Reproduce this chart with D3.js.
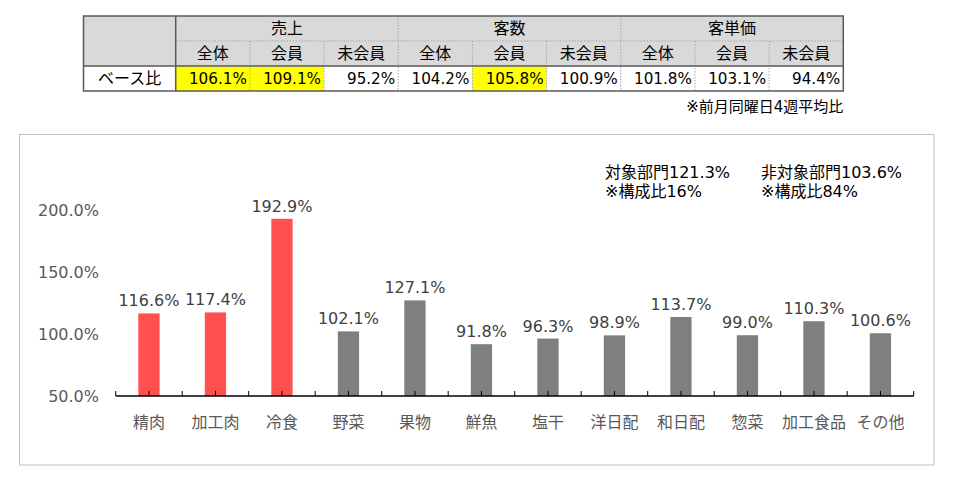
<!DOCTYPE html>
<html lang="ja">
<head>
<meta charset="UTF-8" />
<title>部門別 ベース比</title>
<script src="https://d3js.org/d3.v7.min.js"></script>
<style>
  body { margin: 0; background: #fff; }
  svg { display: block; font-family: "DejaVu Sans", "Noto Sans CJK JP", sans-serif; }
  .tbl-text { font-size: 16px; fill: #000; }
  .tbl-val { font-size: 15.2px; fill: #000; }
  .tick-label { font-size: 16px; fill: #595959; }
  .value-label { font-size: 16px; fill: #404040; }
  .note { font-size: 16px; fill: #000; }
</style>
</head>
<body>
<svg id="chart" width="953" height="482"></svg>
<script>
// table data
const groups = ["売上", "客数", "客単価"];
const subCols = ["全体", "会員", "未会員"];
const rowLabel = "ベース比";
const tableValues = [106.1, 109.1, 95.2, 104.2, 105.8, 100.9, 101.8, 103.1, 94.4];
const highlighted = [true, true, false, false, true, false, false, false, false];
const footnote = "※前月同曜日4週平均比";

// bar chart data
const categories = ["精肉", "加工肉", "冷食", "野菜", "果物", "鮮魚", "塩干", "洋日配", "和日配", "惣菜", "加工食品", "その他"];
const values = [116.6, 117.4, 192.9, 102.1, 127.1, 91.8, 96.3, 98.9, 113.7, 99.0, 110.3, 100.6];
const isTarget = [true, true, true, false, false, false, false, false, false, false, false, false];
const yTicks = [50, 100, 150, 200];
const notes = [
  ["対象部門121.3%", "※構成比16%"],
  ["非対象部門103.6%", "※構成比84%"]
];

const pct = d => d3.format(".1f")(d) + "%";
const svg = d3.select("#chart");

// ---------- table ----------
const tLeft = 83.5, tFirst = 175.7, tRight = 843.3;
const rowTop = 16, rowH = 25;
const colX = d3.scaleBand().domain(d3.range(tableValues.length)).range([tFirst, tRight]);
const cw = colX.bandwidth();
const tbl = svg.append("g");

// header background
tbl.append("rect")
  .attr("x", tLeft).attr("y", rowTop)
  .attr("width", tRight - tLeft).attr("height", rowH * 2)
  .attr("fill", "#d9d9d9");

// data row cells
tbl.selectAll(".cell")
  .data(tableValues)
  .join("rect")
  .attr("x", (d, i) => colX(i)).attr("y", rowTop + rowH * 2)
  .attr("width", cw).attr("height", rowH)
  .attr("fill", (d, i) => highlighted[i] ? "#ffff00" : "#fff");

const dotted = { stroke: "#a6a6a6", "stroke-dasharray": "1.5,1.5", "stroke-width": 1 };
function line(x1, y1, x2, y2, style) {
  const l = tbl.append("line").attr("x1", x1).attr("y1", y1).attr("x2", x2).attr("y2", y2);
  Object.entries(style).forEach(([k, v]) => l.attr(k, v));
  return l;
}
// dotted horizontal between header rows
line(tFirst, rowTop + rowH, tRight, rowTop + rowH, dotted);
// dotted verticals
d3.range(1, tableValues.length).forEach(i => {
  const groupEdge = i % subCols.length === 0;
  line(colX(i), groupEdge ? rowTop : rowTop + rowH, colX(i), rowTop + rowH * 3, dotted);
});
const solid = { stroke: "#595959", "stroke-width": 1.5 };
line(tLeft, rowTop + rowH * 2, tRight, rowTop + rowH * 2, solid);
line(tFirst, rowTop, tFirst, rowTop + rowH * 3, solid);
tbl.append("rect")
  .attr("x", tLeft).attr("y", rowTop)
  .attr("width", tRight - tLeft).attr("height", rowH * 3)
  .attr("fill", "none").attr("stroke", "#595959").attr("stroke-width", 1.5);

// header text
tbl.selectAll(".grp")
  .data(groups)
  .join("text")
  .attr("class", "tbl-text")
  .attr("x", (d, i) => colX(i * subCols.length) + cw * subCols.length / 2)
  .attr("y", rowTop + rowH / 2)
  .attr("dy", "0.36em")
  .attr("text-anchor", "middle")
  .text(d => d);

tbl.selectAll(".sub")
  .data(tableValues)
  .join("text")
  .attr("class", "tbl-text")
  .attr("x", (d, i) => colX(i) + cw / 2)
  .attr("y", rowTop + rowH * 1.5)
  .attr("dy", "0.36em")
  .attr("text-anchor", "middle")
  .text((d, i) => subCols[i % subCols.length]);

tbl.selectAll(".val")
  .data(tableValues)
  .join("text")
  .attr("class", "tbl-val")
  .attr("x", (d, i) => colX(i) + cw - 3)
  .attr("y", rowTop + rowH * 2.5)
  .attr("dy", "0.36em")
  .attr("text-anchor", "end")
  .text(pct);

tbl.append("text")
  .attr("class", "tbl-text")
  .attr("x", (tLeft + tFirst) / 2)
  .attr("y", rowTop + rowH * 2.5)
  .attr("dy", "0.36em")
  .attr("text-anchor", "middle")
  .text(rowLabel);

tbl.append("text")
  .attr("class", "tbl-text")
  .style("font-size", "15px")
  .attr("x", tRight)
  .attr("y", 112)
  .attr("text-anchor", "end")
  .text(footnote);

// ---------- chart ----------
svg.append("rect")
  .attr("x", 19.5).attr("y", 134.5)
  .attr("width", 914.5).attr("height", 330.5)
  .attr("fill", "#fff").attr("stroke", "#bfbfbf");

const x = d3.scaleBand().domain(categories).range([115.7, 913.7]).paddingInner(0.68).paddingOuter(0.34);
const band = d3.scaleBand().domain(categories).range([115.7, 913.7]);
const y = d3.scaleLinear().domain([50, 200]).range([396, 210]);

// y labels
svg.append("g")
  .selectAll("text")
  .data(yTicks)
  .join("text")
  .attr("class", "tick-label")
  .attr("x", 99)
  .attr("y", d => y(d))
  .attr("dy", "0.36em")
  .attr("text-anchor", "end")
  .text(d => d3.format(".1f")(d) + "%");

// bars
svg.append("g")
  .selectAll("rect")
  .data(values)
  .join("rect")
  .attr("x", (d, i) => x(categories[i]))
  .attr("y", d => y(d))
  .attr("width", x.bandwidth())
  .attr("height", d => y(50) - y(d))
  .attr("fill", (d, i) => isTarget[i] ? "#ff5050" : "#7f7f7f");

// value labels
svg.append("g")
  .selectAll("text")
  .data(values)
  .join("text")
  .attr("class", "value-label")
  .attr("x", (d, i) => band(categories[i]) + band.bandwidth() / 2)
  .attr("y", d => y(d) - 7)
  .attr("text-anchor", "middle")
  .text(pct);

// x axis: ticks at boundaries and centres, pointing up
const ax = svg.append("g");
ax.append("line")
  .attr("x1", band.range()[0]).attr("x2", band.range()[1])
  .attr("y1", y(50)).attr("y2", y(50))
  .attr("stroke", "#000").attr("stroke-width", 1.3);
const tickPos = [];
categories.forEach(c => { tickPos.push(band(c)); tickPos.push(band(c) + band.bandwidth() / 2); });
tickPos.push(band.range()[1]);
ax.selectAll(".tk")
  .data(tickPos)
  .join("line")
  .attr("x1", d => d).attr("x2", d => d)
  .attr("y1", y(50)).attr("y2", y(50) - 5)
  .attr("stroke", "#000");
ax.selectAll(".cat")
  .data(categories)
  .join("text")
  .attr("class", "tick-label")
  .attr("x", d => band(d) + band.bandwidth() / 2)
  .attr("y", 428)
  .attr("text-anchor", "middle")
  .text(d => d);

// notes
const noteX = [605, 761];
notes.forEach((lines, i) => {
  svg.append("text")
    .attr("class", "note")
    .attr("x", noteX[i])
    .attr("y", 178)
    .selectAll("tspan")
    .data(lines)
    .join("tspan")
    .attr("x", noteX[i])
    .attr("dy", (d, j) => j === 0 ? 0 : 19)
    .text(d => d);
});
</script>
</body>
</html>
